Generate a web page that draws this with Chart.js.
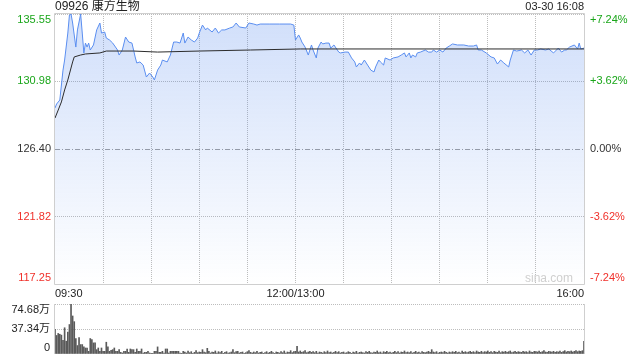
<!DOCTYPE html>
<html>
<head>
<meta charset="utf-8">
<script src="https://cdn.jsdelivr.net/npm/chart.js@4/dist/chart.umd.min.js"></script>
<style>
  html, body { margin: 0; padding: 0; background: #fff; }
  #wrap { position: relative; width: 640px; height: 360px; }
  #price { position: absolute; left: 0; top: 0; }
  #vol { position: absolute; left: 0; top: 300px; }
</style>
</head>
<body>
<div id="wrap">
  <canvas id="price" width="640" height="300"></canvas>
  <canvas id="vol" width="640" height="60"></canvas>
</div>
<script>
const stockName = '09926 康方生物';
const stampText = '03-30 16:08';
const prevClose = 126.40;

// y axis (price and change)
const priceTicks = [117.25, 121.82, 126.40, 130.98, 135.55];
const pctLabels = ['-7.24%', '-3.62%', '0.00%', '+3.62%', '+7.24%'];

// x axis, minutes of trading since 09:30 (lunch break removed)
const gridMinutes = [0, 30, 60, 90, 120, 150, 180, 210, 240, 270, 300, 330];
const timeLabels = { 0: '09:30', 150: '12:00/13:00', 330: '16:00' };

const priceMinutes = [
  0, 1, 3, 5, 6, 8, 9, 10, 11, 13,
  14, 16, 17, 18, 19, 20, 21, 22, 24, 26,
  28, 29, 31, 32, 34, 36, 39, 40, 42, 44,
  46, 48, 50, 51, 53, 55, 57, 59, 61, 62,
  64, 66, 67, 70, 72, 74, 76, 78, 80, 81,
  83, 85, 87, 89, 90, 92, 94, 95, 98, 100,
  102, 104, 106, 109, 111, 113, 115, 119, 121, 124,
  126, 128, 131, 134, 140, 147, 149, 150, 152, 153,
  154, 156, 158, 160, 161, 163, 164, 166, 167, 169,
  171, 172, 174, 177, 178, 181, 183, 185, 187, 188,
  190, 191, 193, 195, 197, 199, 200, 202, 203, 205,
  206, 209, 211, 214, 216, 218, 219, 221, 222, 223,
  225, 226, 228, 231, 233, 235, 236, 238, 240, 242,
  244, 246, 248, 251, 255, 258, 261, 263, 264, 266,
  269, 272, 274, 276, 278, 280, 283, 284, 286, 288,
  291, 293, 295, 297, 299, 301, 303, 306, 308, 311,
  314, 316, 318, 319, 321, 324, 326, 327, 328, 330
];
const prices = [
  129.18, 129.45, 129.72, 131.75, 132.43, 134.26, 135.48, 135.55, 134.94, 133.31,
  134.47, 135.55, 134.26, 132.91, 133.58, 133.31, 133.58, 133.11, 133.45, 134.47,
  134.94, 134.26, 134.33, 133.92, 133.79, 133.58, 133.11, 132.77, 133.11, 133.99,
  133.65, 133.58, 132.64, 132.23, 132.30, 132.09, 131.28, 131.55, 131.28, 131.08,
  131.75, 132.09, 132.43, 132.30, 132.77, 133.65, 133.65, 133.58, 134.26, 133.58,
  133.99, 133.79, 133.65, 133.92, 134.26, 134.80, 134.47, 134.60, 134.33, 134.60,
  134.26, 134.47, 134.47, 134.60, 134.67, 134.94, 134.67, 134.60, 134.94, 134.87,
  134.80, 134.87, 134.87, 134.87, 134.87, 134.87, 134.80, 133.79, 134.13, 133.92,
  133.65, 133.31, 132.77, 133.45, 133.11, 132.57, 133.24, 133.65, 133.52, 133.58,
  133.58, 133.24, 133.45, 132.97, 132.91, 132.97, 132.97, 132.57, 132.30, 131.96,
  132.23, 132.09, 132.43, 132.09, 131.75, 131.62, 131.96, 132.43, 132.30, 132.09,
  132.57, 132.43, 132.57, 132.64, 132.77, 132.91, 132.64, 132.91, 132.57, 132.77,
  132.64, 132.91, 132.97, 133.11, 132.97, 132.97, 133.11, 132.97, 133.11, 132.97,
  133.24, 133.38, 133.52, 133.45, 133.45, 133.38, 133.38, 133.45, 133.11, 133.11,
  132.91, 132.64, 132.57, 132.16, 132.43, 132.23, 131.96, 132.43, 133.11, 133.04,
  133.11, 132.91, 133.11, 132.77, 133.11, 133.11, 133.18, 133.11, 133.18, 132.91,
  133.24, 132.97, 133.11, 133.11, 133.31, 133.45, 133.18, 133.58, 133.18, 133.24
];

const avgMinutes = [0, 2, 4, 6, 8, 11, 12, 16, 19, 28, 32, 49, 64, 90, 122, 153, 330];
const avgPrices = [128.50, 129.04, 129.59, 130.40, 131.08, 132.30, 132.64, 132.77, 132.84,
  132.91, 133.04, 133.04, 132.97, 133.04, 133.11, 133.18, 133.18];

// volume, 万 shares per minute
const volTicks = [0, 37.34, 74.68];
const volLabels = ['0', '37.34万', '74.68万'];
const volumes = [
  36.7, 27.7, 30.7, 29.5, 28.2, 20.6, 39.2, 19.1, 32.7, 44.0,
  74.68, 56.8, 48.3, 23.1, 12.6, 24.6, 14.1, 14.1, 10.6, 9.0,
  9.0, 4.0, 23.1, 21.6, 16.6, 16.6, 6.5, 9.0, 4.0, 9.0,
  4.0, 4.0, 17.6, 10.6, 4.0, 5.5, 6.5, 9.0, 4.0, 4.0,
  6.5, 2.5, 1.5, 4.0, 4.0, 7.5, 2.5, 7.5, 6.5, 6.5,
  2.5, 7.5, 4.0, 4.0, 7.5, 1.5, 2.5, 2.5, 4.0, 1.5,
  0.5, 0.5, 4.0, 4.0, 10.6, 2.5, 2.5, 4.0, 1.5, 7.5,
  7.5, 1.5, 4.0, 4.0, 4.0, 4.0, 4.0, 4.0, 1.5, 0.5,
  4.0,
  3.0, 1.5, 4.5, 2.0, 3.5, 1.0, 2.5, 5.0, 2.0, 3.0,
  2.5, 6.5, 3.0, 2.0, 8.5, 4.0, 1.5, 3.0, 2.5, 4.5,
  1.5, 3.5, 2.0, 4.0, 1.0, 2.5, 3.5, 1.5, 2.0, 3.0,
  6.5, 2.0, 3.5, 4.0, 1.5, 2.5, 3.0, 1.0, 2.0, 3.5,
  5.0, 2.5, 1.5, 3.0, 2.0, 4.0, 1.5, 2.5, 3.0, 1.0,
  2.0, 3.5, 1.5, 2.5, 4.0, 2.0, 1.0, 3.0, 2.5, 1.5,
  3.5, 2.0, 4.5, 1.5, 3.0, 2.5, 5.0, 2.0, 3.5, 4.0,
  11.6, 3.0, 4.5, 2.5, 3.5, 5.0, 2.0, 3.0, 4.0, 2.5,
  3.5, 2.0, 4.0, 1.5, 3.0, 2.5, 1.5, 3.5, 2.0, 4.5,
  2.0, 3.0, 1.5, 2.5, 4.0, 2.0, 3.5, 1.5, 2.5, 3.0,
  1.5, 2.0, 3.5, 2.5, 1.0, 3.0, 2.0, 4.0, 1.5, 2.5,
  3.0, 2.0, 1.5, 3.5, 2.5, 4.0, 2.0, 1.5, 3.0, 2.5,
  4.5, 2.0, 3.0, 1.5, 3.5, 2.5, 4.0, 2.0, 3.0, 1.5,
  2.5, 4.0, 2.0, 3.5, 1.5, 3.0, 2.5, 4.5, 2.0, 3.0,
  2.0, 3.5, 1.5, 2.5, 4.0, 2.0, 3.0, 1.5, 3.5, 2.5,
  2.0, 3.0, 4.0, 2.5, 6.5, 3.0, 2.0, 3.5, 1.5, 2.5,
  3.0, 2.0, 4.0, 2.5, 1.5, 3.0, 2.0, 3.5, 2.5, 4.0,
  2.0, 3.0, 1.5, 4.5, 2.5, 3.5, 2.0, 3.0, 4.0, 2.5,
  3.5, 2.0, 4.5, 3.0, 2.5, 4.0, 2.0, 3.5, 3.0, 4.5,
  2.5, 3.5, 2.0, 4.0, 3.0, 2.5, 4.5, 2.0, 3.5, 3.0,
  4.0, 2.5, 3.5, 4.5, 2.0, 3.0, 4.0, 2.5, 3.5, 3.0,
  2.5, 4.0, 3.0, 3.5, 2.0, 4.5, 3.0, 2.5, 4.0, 3.5,
  3.0, 4.5, 2.5, 3.5, 5.0, 3.0, 2.5, 4.0, 3.5, 3.0,
  4.0, 2.5, 3.5, 3.0, 4.5, 2.5, 3.5, 5.0, 3.0, 4.0,
  3.5, 4.5, 3.0, 4.0, 5.0, 3.5, 4.5, 4.0, 5.0, 19.0
];

const FONT = '"Liberation Sans", Arial, "Noto Sans CJK SC", sans-serif';
const GREEN = '#1aa61a';
const RED = '#f0302a';
const GRID = '#bdbdbd';

// push top / bottom tick labels inside the plot, like the original
function edgeLabel(text, index, count) {
  if (index === 0) return [text, ''];
  if (index === count - 1) return ['', text];
  return text;
}

function colorFor(value) {
  if (Math.abs(value - prevClose) < 0.01) return '#333333';
  return value > prevClose ? GREEN : RED;
}

const framePlugin = {
  id: 'frame',
  beforeDatasetsDraw(chart, args, opts) {
    const a = chart.chartArea;
    const ctx = chart.ctx;
    ctx.save();
    ctx.strokeStyle = opts.color || '#cfcfcf';
    ctx.lineWidth = 1;
    ctx.beginPath();
    if (opts.sides === 'lr') {
      ctx.moveTo(Math.round(a.left) - 0.5, a.top);
      ctx.lineTo(Math.round(a.left) - 0.5, a.bottom);
      ctx.moveTo(Math.round(a.right) + 0.5, a.top);
      ctx.lineTo(Math.round(a.right) + 0.5, a.bottom);
    } else {
      ctx.rect(Math.round(a.left) - 0.5, Math.round(a.top) - 0.5,
        Math.round(a.right - a.left) + 1, Math.round(a.bottom - a.top) + 1);
    }
    ctx.stroke();
    ctx.restore();
  }
};

const textPlugin = {
  id: 'texts',
  afterDraw(chart) {
    const a = chart.chartArea;
    const ctx = chart.ctx;
    ctx.save();
    ctx.textBaseline = 'middle';
    ctx.fillStyle = '#222';
    ctx.font = '12px ' + FONT;
    ctx.textAlign = 'left';
    ctx.fillText(stockName, a.left, 7);
    ctx.font = '11px ' + FONT;
    ctx.textAlign = 'right';
    ctx.fillText(stampText, a.right, 7);
    ctx.fillStyle = '#cfcfcf';
    ctx.font = '12px ' + FONT;
    ctx.fillText('sina.com', a.right - 11, a.bottom - 5);
    ctx.restore();
  }
};

const priceCtx = document.getElementById('price').getContext('2d');
new Chart(priceCtx, {
  type: 'line',
  plugins: [framePlugin, textPlugin],
  data: {
    datasets: [
      {
        label: 'avg',
        data: avgMinutes.map((m, i) => ({ x: m, y: avgPrices[i] })),
        borderColor: '#2b2b2b',
        borderWidth: 1,
        pointRadius: 0,
        fill: false,
        order: 0
      },
      {
        label: 'price',
        data: priceMinutes.map((m, i) => ({ x: m, y: prices[i] })),
        borderColor: '#5a8ef0',
        borderWidth: 1,
        pointRadius: 0,
        fill: 'start',
        backgroundColor: (c) => {
          const a = c.chart.chartArea;
          if (!a) return 'rgba(60,120,235,0.2)';
          const g = c.chart.ctx.createLinearGradient(0, a.top, 0, a.bottom);
          g.addColorStop(0, 'rgba(60,120,235,0.24)');
          g.addColorStop(1, 'rgba(60,120,235,0)');
          return g;
        },
        order: 1
      }
    ]
  },
  options: {
    responsive: false,
    animation: false,
    events: [],
    layout: { padding: { top: 14, left: 0, right: 0, bottom: 0 } },
    plugins: {
      legend: { display: false },
      tooltip: { enabled: false },
      frame: { color: '#cfcfcf' }
    },
    scales: {
      x: {
        type: 'linear',
        min: 0,
        max: 330,
        afterBuildTicks: (s) => { s.ticks = gridMinutes.map((v) => ({ value: v })); },
        afterFit: (s) => { s.height = 16; s.paddingLeft = 0; s.paddingRight = 0; },
        grid: {
          drawTicks: false,
          color: (c) => (c.index === 0 || c.index === gridMinutes.length - 1 ? 'rgba(0,0,0,0)' : GRID)
        },
        border: { display: false, dash: [1, 1] },
        ticks: {
          autoSkip: false,
          maxRotation: 0,
          align: 'inner',
          padding: 3,
          color: '#222',
          font: { size: 11, family: FONT },
          callback: (v) => timeLabels[v] || ''
        }
      },
      y: {
        position: 'left',
        min: 117.25,
        max: 135.55,
        afterBuildTicks: (s) => { s.ticks = priceTicks.map((v) => ({ value: v })); },
        afterFit: (s) => { s.width = 55; s.paddingTop = 0; s.paddingBottom = 0; },
        grid: {
          drawTicks: false,
          color: (c) => (c.index === 2 ? '#a0a0a0' : GRID)
        },
        border: {
          display: false,
          dash: (c) => (c.index === 2 ? [5, 2, 1, 2] : [1, 1])
        },
        ticks: {
          autoSkip: false,
          padding: 4,
          color: (c) => colorFor(c.tick.value),
          font: { size: 11, family: FONT, lineHeight: 1.1 },
          callback: (v, i) => edgeLabel(priceTicks[i].toFixed(2), i, priceTicks.length)
        }
      },
      y1: {
        position: 'right',
        min: 117.25,
        max: 135.55,
        afterBuildTicks: (s) => { s.ticks = priceTicks.map((v) => ({ value: v })); },
        afterFit: (s) => { s.width = 56; s.paddingTop = 0; s.paddingBottom = 0; },
        grid: { display: false, drawTicks: false },
        border: { display: false },
        ticks: {
          autoSkip: false,
          padding: 6,
          color: (c) => colorFor(c.tick.value),
          font: { size: 11, family: FONT, lineHeight: 1.1 },
          callback: (v, i) => edgeLabel(pctLabels[i], i, pctLabels.length)
        }
      }
    }
  }
});

const volCtx = document.getElementById('vol').getContext('2d');
new Chart(volCtx, {
  type: 'bar',
  plugins: [framePlugin],
  data: {
    datasets: [{
      label: 'volume',
      data: volumes.map((v, i) => ({ x: i, y: v })),
      backgroundColor: '#5a5a5a',
      barThickness: 1
    }]
  },
  options: {
    responsive: false,
    animation: false,
    events: [],
    layout: { padding: { top: 4, left: 0, right: 56, bottom: 6 } },
    plugins: {
      legend: { display: false },
      tooltip: { enabled: false },
      frame: { color: '#cfcfcf', sides: 'lr' }
    },
    scales: {
      x: {
        type: 'linear',
        min: 0,
        max: 330,
        offset: false,
        display: false
      },
      y: {
        min: 0,
        max: 74.68,
        afterBuildTicks: (s) => { s.ticks = volTicks.map((v) => ({ value: v })); },
        afterFit: (s) => { s.width = 55; s.paddingTop = 0; s.paddingBottom = 0; },
        grid: {
          drawTicks: false,
          color: (c) => (c.index === 0 ? 'rgba(0,0,0,0)' : GRID)
        },
        border: { display: false, dash: [1, 1] },
        ticks: {
          autoSkip: false,
          padding: 5,
          color: '#222',
          font: { size: 11, family: FONT, lineHeight: 1.1 },
          callback: (v, i) => edgeLabel(volLabels[i], i, volLabels.length)
        }
      }
    }
  }
});
</script>
</body>
</html>
